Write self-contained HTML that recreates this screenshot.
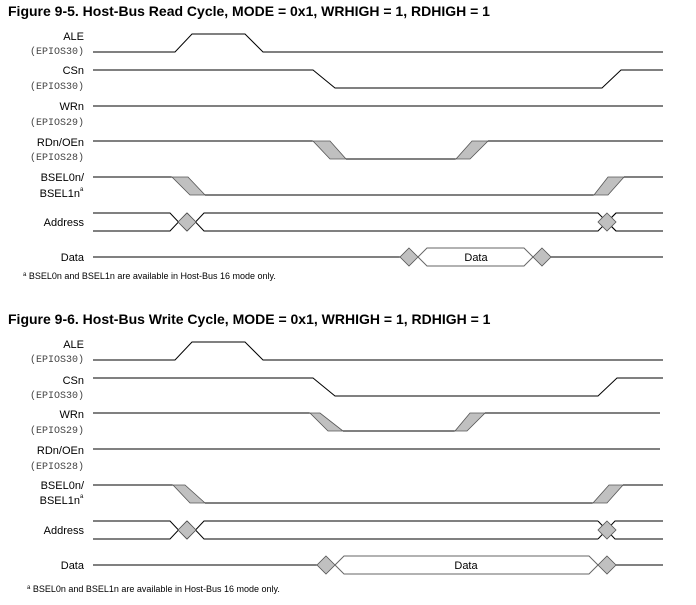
<!DOCTYPE html>
<html><head><meta charset="utf-8"><style>
html,body{margin:0;padding:0;background:#fff;width:696px;height:605px;overflow:hidden}
svg{display:block}
.t{font-family:"Liberation Sans",sans-serif;font-weight:bold;font-size:14px;fill:#000}
.l{font-family:"Liberation Sans",sans-serif;font-size:11px;fill:#000;text-anchor:end}
.m{font-family:"Liberation Mono",monospace;font-size:10px;fill:#444;text-anchor:end}
.f{font-family:"Liberation Sans",sans-serif;font-size:9px;fill:#000}
.s{fill:none;stroke:#000;stroke-width:1}
.g{fill:#c0c0c0;stroke:#555;stroke-width:0.8}
.b{fill:#fff;stroke:#666;stroke-width:1}
</style></head><body>
<svg width="696" height="605" viewBox="0 0 696 605">
<!-- Figure 1 -->
<text class="t" x="8" y="16">Figure 9-5. Host-Bus Read Cycle, MODE = 0x1, WRHIGH = 1, RDHIGH = 1</text>
<text class="l" x="84" y="40">ALE</text><text class="m" x="84" y="54">(EPIOS30)</text>
<text class="l" x="84" y="74">CSn</text><text class="m" x="84" y="89">(EPIOS30)</text>
<text class="l" x="84" y="110">WRn</text><text class="m" x="84" y="125">(EPIOS29)</text>
<text class="l" x="84" y="146">RDn/OEn</text><text class="m" x="84" y="160">(EPIOS28)</text>
<text class="l" x="84" y="181">BSEL0n/</text><text class="l" x="80" y="197">BSEL1n</text><text class="f" x="80" y="191" style="font-size:6px">a</text>
<text class="l" x="84" y="226">Address</text>
<text class="l" x="84" y="261">Data</text>
<polyline class="s" points="93,52 175,52 192,34 245,34 263,52 663,52"/>
<polyline class="s" points="93,70 313,70 335,88 602,88 621,70 663,70"/>
<line class="s" x1="93" y1="106" x2="663" y2="106"/>
<polyline class="s" points="93,141 313,141"/><polygon class="g" points="313,141 330,141 346,159 330,159"/>
<polyline class="s" points="346,159 456,159"/><polygon class="g" points="456,159 470,159 488,141 472,141"/>
<polyline class="s" points="488,141 663,141"/>
<polyline class="s" points="93,177 172,177"/><polygon class="g" points="172,177 188,177 205,195 190,195"/>
<polyline class="s" points="205,195 594,195"/><polygon class="g" points="594,195 608,195 624,177 608,177"/>
<polyline class="s" points="624,177 663,177"/>
<polyline class="s" points="93,213 170,213 187,231"/><polyline class="s" points="93,231 170,231 187,213"/>
<polyline class="s" points="187,213 204,231 598,231 616,213"/><polyline class="s" points="187,231 204,213 598,213 616,231"/>
<polyline class="s" points="607,222 616,231 663,231"/><polyline class="s" points="607,222 616,213 663,213"/>
<polygon class="g" points="187,213 196,222 187,231 178,222"/><polygon class="g" points="607,213 616,222 607,231 598,222"/>
<line class="s" x1="93" y1="257" x2="400" y2="257"/>
<polygon class="b" points="418,257 427,248 524,248 533,257 524,266 427,266"/>
<polygon class="g" points="409,248 418,257 409,266 400,257"/><polygon class="g" points="542,248 551,257 542,266 533,257"/>
<line class="s" x1="551" y1="257" x2="663" y2="257"/>
<text class="l" x="476" y="261" style="text-anchor:middle">Data</text>
<text class="f" x="23" y="279"><tspan font-size="6" dy="-3">a</tspan><tspan dy="3"> BSEL0n and BSEL1n are available in Host-Bus 16 mode only.</tspan></text>

<!-- Figure 2 -->
<text class="t" x="8" y="324">Figure 9-6. Host-Bus Write Cycle, MODE = 0x1, WRHIGH = 1, RDHIGH = 1</text>
<text class="l" x="84" y="348">ALE</text><text class="m" x="84" y="362">(EPIOS30)</text>
<text class="l" x="84" y="384">CSn</text><text class="m" x="84" y="398">(EPIOS30)</text>
<text class="l" x="84" y="418">WRn</text><text class="m" x="84" y="433">(EPIOS29)</text>
<text class="l" x="84" y="454">RDn/OEn</text><text class="m" x="84" y="469">(EPIOS28)</text>
<text class="l" x="84" y="489">BSEL0n/</text><text class="l" x="80" y="504">BSEL1n</text><text class="f" x="80" y="498" style="font-size:6px">a</text>
<text class="l" x="84" y="534">Address</text>
<text class="l" x="84" y="569">Data</text>
<polyline class="s" points="93,360 175,360 192,342 245,342 263,360 663,360"/>
<polyline class="s" points="93,378 313,378 335,396 598,396 617,378 663,378"/>
<polyline class="s" points="93,413 310,413"/><polygon class="g" points="310,413 320,413 343,431 328,431"/>
<polyline class="s" points="343,431 455,431"/><polygon class="g" points="455,431 467,431 485,413 470,413"/>
<polyline class="s" points="485,413 660,413"/>
<line class="s" x1="93" y1="449" x2="660" y2="449"/>
<polyline class="s" points="93,485 173,485"/><polygon class="g" points="173,485 185,485 205,503 190,503"/>
<polyline class="s" points="205,503 593,503"/><polygon class="g" points="593,503 607,503 623,485 609,485"/>
<polyline class="s" points="623,485 663,485"/>
<polyline class="s" points="93,521 170,521 187,539"/><polyline class="s" points="93,539 170,539 187,521"/>
<polyline class="s" points="187,521 204,539 598,539"/><polyline class="s" points="187,539 204,521 598,521"/>
<polyline class="s" points="598,521 615,539 663,539"/><polyline class="s" points="598,539 615,521 663,521"/>
<polygon class="g" points="187,521 196,530 187,539 178,530"/><polygon class="g" points="607,521 616,530 607,539 598,530"/>
<line class="s" x1="93" y1="565" x2="317" y2="565"/>
<polygon class="b" points="335,565 344,556 589,556 598,565 589,574 344,574"/>
<polygon class="g" points="326,556 335,565 326,574 317,565"/><polygon class="g" points="607,556 616,565 607,574 598,565"/>
<line class="s" x1="616" y1="565" x2="663" y2="565"/>
<text class="l" x="466" y="569" style="text-anchor:middle">Data</text>
<text class="f" x="27" y="592"><tspan font-size="6" dy="-3">a</tspan><tspan dy="3"> BSEL0n and BSEL1n are available in Host-Bus 16 mode only.</tspan></text>
</svg>
</body></html>
